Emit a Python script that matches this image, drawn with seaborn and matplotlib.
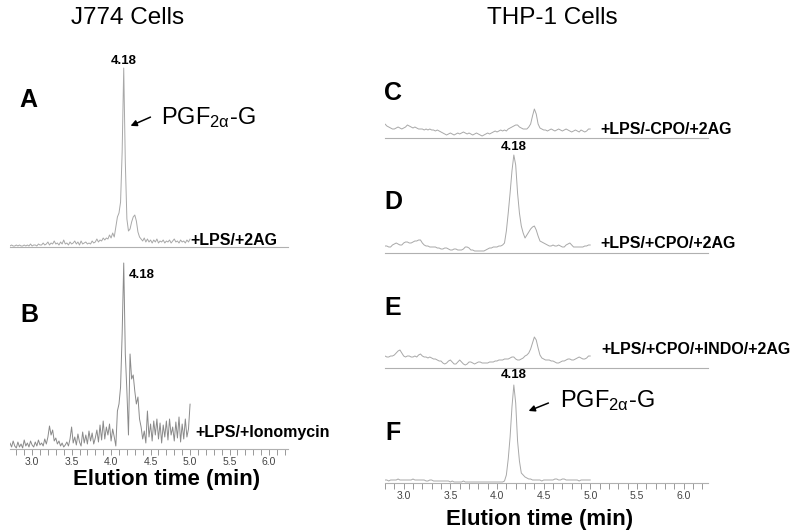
import numpy as np
import matplotlib
matplotlib.use("Agg")
import matplotlib.pyplot as plt
import seaborn as sns

sns.set_style("white")
plt.rcParams['font.family'] = ['Liberation Sans', 'DejaVu Sans']
plt.rcParams['text.color'] = 'black'
plt.rcParams['mathtext.fontset'] = 'custom'
plt.rcParams['mathtext.rm'] = 'Liberation Sans'
plt.rcParams['mathtext.it'] = 'Liberation Sans:italic'

# scan times (min)
scan_left = np.round(np.arange(2.72, 5.001, 0.02), 2)
scan_right = np.round(np.arange(2.80, 5.001, 0.02), 2)

# J774 cells - ion intensity (arbitrary units)
trace_A = [1, 2, 1, 1, 2, 1, 2, 1, 1, 2,
           1, 2, 1, 3, 1, 2, 2, 1, 3, 2,
           2, 4, 2, 3, 5, 2, 4, 3, 6, 3,
           4, 2, 5, 3, 7, 3, 4, 2, 5, 3,
           4, 6, 3, 5, 2, 6, 3, 4, 5, 3,
           4, 3, 6, 4, 5, 8, 5, 7, 6, 9,
           7, 9, 8, 12, 9, 14, 10, 20, 30, 34,
           45, 95, 179, 85, 28, 16, 18, 25, 30, 32,
           26, 15, 10, 8, 6, 9, 5, 8, 5, 7,
           4, 7, 5, 8, 4, 6, 5, 7, 4, 6,
           5, 7, 4, 6, 8, 5, 6, 4, 7, 5,
           6, 4, 7, 5, 8]
trace_B = [6, 2, 8, 3, 1, 7, 2, 5, 1, 9,
           3, 6, 2, 8, 4, 2, 7, 3, 9, 4,
           6, 3, 10, 5, 12, 23, 14, 19, 8, 11,
           5, 8, 3, 6, 2, 4, 7, 3, 10, 22,
           6, 12, 4, 15, 7, 3, 17, 6, 14, 5,
           18, 8, 16, 5, 11, 19, 7, 24, 9, 28,
           10, 22, 14, 25, 8, 20, 12, 3, 38, 45,
           62, 115, 186, 95, 58, 14, 95, 70, 74, 58,
           45, 52, 30, 22, 10, 18, 6, 38, 12, 25,
           8, 28, 14, 30, 10, 26, 6, 24, 12, 28,
           9, 30, 14, 22, 8, 27, 11, 32, 7, 25,
           10, 30, 12, 20, 45]

# THP-1 cells
trace_C = [14, 12, 11, 10, 9, 9, 10, 11, 10, 9,
           10, 11, 13, 12, 11, 10, 11, 10, 9, 9,
           9, 8, 9, 8, 9, 8, 8, 7, 8, 7,
           6, 5, 4, 3, 4, 5, 4, 3, 4, 5,
           4, 5, 6, 5, 4, 5, 4, 3, 4, 5,
           4, 3, 2, 3, 4, 5, 4, 5, 6, 7,
           6, 7, 8, 7, 8, 7, 9, 10, 11, 12,
           13, 13, 11, 10, 9, 9, 9, 11, 14, 22,
           29, 24, 14, 10, 9, 8, 8, 7, 8, 9,
           8, 7, 8, 9, 8, 7, 8, 9, 8, 7,
           6, 7, 8, 7, 6, 8, 7, 6, 7, 9,
           9]
trace_D = [7, 7, 6, 6, 8, 9, 10, 9, 8, 8,
           10, 11, 11, 10, 10, 11, 12, 12, 13, 13,
           10, 8, 7, 7, 6, 6, 6, 6, 5, 5,
           4, 4, 5, 5, 4, 3, 3, 4, 4, 3,
           3, 3, 4, 6, 6, 5, 3, 3, 2, 2,
           2, 2, 2, 2, 3, 4, 5, 5, 6, 6,
           6, 7, 7, 8, 10, 22, 40, 60, 82, 98,
           88, 60, 40, 27, 20, 15, 18, 21, 24, 26,
           27, 23, 17, 12, 11, 10, 9, 8, 7, 7,
           8, 7, 7, 8, 7, 6, 6, 8, 9, 10,
           8, 6, 6, 6, 6, 6, 6, 7, 7, 8,
           8]
trace_E = [12, 11, 11, 12, 12, 13, 15, 17, 18, 15,
           12, 11, 12, 12, 11, 11, 12, 11, 13, 14,
           12, 11, 11, 10, 11, 10, 9, 9, 8, 7,
           7, 5, 4, 5, 7, 8, 6, 4, 4, 6,
           8, 6, 4, 3, 4, 6, 6, 5, 4, 5,
           6, 6, 5, 5, 5, 5, 6, 6, 6, 7,
           7, 8, 8, 8, 9, 9, 9, 10, 11, 11,
           9, 8, 8, 9, 10, 12, 13, 15, 19, 25,
           31, 28, 20, 13, 10, 9, 8, 8, 8, 7,
           7, 6, 5, 5, 6, 7, 7, 8, 9, 9,
           8, 8, 9, 10, 11, 10, 9, 9, 10, 12,
           12]
trace_F = [3, 3, 2, 3, 3, 3, 3, 4, 3, 3,
           3, 3, 3, 3, 3, 4, 3, 3, 3, 3,
           3, 3, 2, 2, 3, 3, 2, 2, 2, 2,
           2, 2, 2, 2, 2, 1, 2, 1, 1, 1,
           1, 1, 2, 1, 1, 1, 1, 1, 1, 1,
           1, 1, 1, 1, 1, 1, 1, 1, 1, 1,
           1, 1, 1, 1, 2, 8, 24, 46, 76, 98,
           80, 42, 22, 10, 8, 6, 5, 4, 4, 3,
           3, 3, 3, 3, 2, 3, 3, 3, 3, 3,
           3, 4, 4, 3, 3, 4, 4, 3, 3, 3,
           3, 3, 3, 3, 2, 3, 3, 3, 3, 3,
           3]

conditions = ["+LPS/+2AG", "+LPS/+Ionomycin", "+LPS/-CPO/+2AG",
              "+LPS/+CPO/+2AG", "+LPS/+CPO/+INDO/+2AG"]
major_ticks = [3.0, 3.5, 4.0, 4.5, 5.0, 5.5, 6.0]
minor_ticks = np.round(np.arange(2.8, 6.25, 0.1), 1)

W, H = 800, 531
fig = plt.figure(figsize=(W / 100, H / 100), dpi=100)

def fx(x):
    return x / W

def fy(y):
    return 1 - y / H

def panel(x0, x1, base, height, xlim, scan, trace, color, show_ticks):
    ax = fig.add_axes([fx(x0), fy(base), (x1 - x0) / W, height / H])
    sns.lineplot(x=scan, y=trace, ax=ax, color=color, linewidth=0.7)
    ax.set_xlim(*xlim)
    ax.set_ylim(0, height)
    ax.set_xlabel("")
    ax.set_ylabel("")
    ax.set_yticks([])
    for s in ["left", "top", "right"]:
        ax.spines[s].set_visible(False)
    ax.spines["bottom"].set_color("#b0b0b0")
    ax.spines["bottom"].set_linewidth(0.8)
    ax.patch.set_alpha(0)
    if show_ticks:
        ax.set_xticks(major_ticks)
        ax.set_xticklabels([f"{t:.1f}" for t in major_ticks])
        ax.set_xticks(minor_ticks, minor=True)
        ax.tick_params(axis="x", which="both", direction="out", length=4,
                       width=0.7, color="#999999", labelsize=7.5,
                       labelcolor="#444444", pad=2, bottom=True)
    else:
        ax.set_xticks([])
    return ax

left_lim = (2.72, 6.24)
right_lim = (2.80, 6.26)
panel(10, 288, 247, 185, left_lim, scan_left, trace_A, "#a8a8a8", False)
panel(10, 288, 449, 190, left_lim, scan_left, trace_B, "#8a8a8a", True)
panel(385, 708, 138, 40, right_lim, scan_right, trace_C, "#a8a8a8", False)
panel(385, 708, 253, 105, right_lim, scan_right, trace_D, "#a8a8a8", False)
panel(385, 708, 368, 40, right_lim, scan_right, trace_E, "#a8a8a8", False)
panel(385, 708, 483, 105, right_lim, scan_right, trace_F, "#a8a8a8", True)

# titles
fig.text(fx(128), fy(18), "J774 Cells", ha="center", va="center", fontsize=17.5)
fig.text(fx(552), fy(18), "THP-1 Cells", ha="center", va="center", fontsize=17.5)

# panel letters
for letter, x, y in [("A", 28, 100), ("B", 29, 315), ("C", 393, 93),
                     ("D", 393, 202), ("E", 393, 308), ("F", 393, 433)]:
    fig.text(fx(x), fy(y), letter, ha="center", va="center",
             fontsize=18, fontweight="bold")

# retention time labels
for x, y in [(124, 61), (142, 275), (514, 147), (514, 375)]:
    fig.text(fx(x), fy(y), "4.18", ha="center", va="center",
             fontsize=9.5, fontweight="bold")

# condition labels
for text, x, y in [(conditions[0], 190, 240), (conditions[1], 195, 433),
                   (conditions[2], 600, 130), (conditions[3], 600, 243),
                   (conditions[4], 601, 350)]:
    fig.text(fx(x), fy(y), text, ha="left", va="center",
             fontsize=11.5, fontweight="bold")

# PGF2a-G annotations
label = r"PGF$_{\mathrm{2\alpha}}$-G"
for tx, ty, hx, hy, ax_, ay_ in [(161, 118, 128, 127, 153, 116),
                                 (560, 401, 526, 412, 551, 402)]:
    fig.text(fx(tx), fy(ty), label, ha="left", va="center", fontsize=17)
    fig.add_artist(matplotlib.patches.FancyArrowPatch(
        (fx(ax_), fy(ay_)), (fx(hx), fy(hy)), transform=fig.transFigure,
        arrowstyle="-|>", mutation_scale=9, color="black", lw=1.1))

# x axis titles
fig.text(fx(167), fy(480), "Elution time (min)", ha="center", va="center",
         fontsize=16, fontweight="bold")
fig.text(fx(540), fy(519), "Elution time (min)", ha="center", va="center",
         fontsize=16, fontweight="bold")

fig.savefig("out.png", dpi=100)
